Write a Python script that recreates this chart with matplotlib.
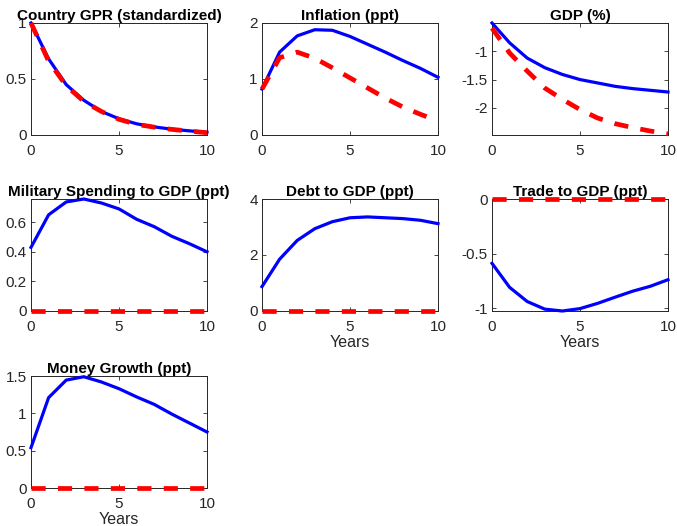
import matplotlib
matplotlib.use("Agg")
import matplotlib.pyplot as plt
import numpy as np

plt.rcParams['font.family'] = ['Liberation Sans', 'DejaVu Sans']

years = list(range(11))

titles = ["Country GPR (standardized)", "Inflation (ppt)", "GDP (%)",
          "Military Spending to GDP (ppt)", "Debt to GDP (ppt)", "Trade to GDP (ppt)",
          "Money Growth (ppt)"]

gpr_blue = [1.0, 0.68, 0.45, 0.31, 0.21, 0.145, 0.10, 0.072, 0.052, 0.037, 0.025]
gpr_red = [1.0, 0.66, 0.44, 0.30, 0.21, 0.14, 0.095, 0.07, 0.05, 0.035, 0.02]
infl_blue = [0.82, 1.48, 1.77, 1.88, 1.87, 1.76, 1.62, 1.48, 1.33, 1.19, 1.03]
infl_red = [0.82, 1.38, 1.48, 1.37, 1.20, 1.02, 0.84, 0.66, 0.50, 0.37, 0.25]
gdp_blue = [-0.50, -0.85, -1.12, -1.29, -1.41, -1.50, -1.56, -1.62, -1.66, -1.69, -1.72]
gdp_red = [-0.59, -1.03, -1.35, -1.65, -1.85, -2.03, -2.18, -2.28, -2.35, -2.41, -2.46]
mil_blue = [0.43, 0.65, 0.737, 0.757, 0.73, 0.69, 0.62, 0.57, 0.505, 0.455, 0.40]
mil_red = [0.0] * 11
debt_blue = [0.87, 1.85, 2.52, 2.94, 3.19, 3.33, 3.36, 3.33, 3.30, 3.24, 3.12]
debt_red = [0.0] * 11
trade_blue = [-0.59, -0.81, -0.94, -1.01, -1.027, -1.005, -0.957, -0.90, -0.845, -0.80, -0.74]
trade_red = [0.0] * 11
money_blue = [0.54, 1.21, 1.445, 1.49, 1.42, 1.33, 1.22, 1.12, 0.99, 0.87, 0.75]
money_red = [0.0] * 11

blue_series = [gpr_blue, infl_blue, gdp_blue, mil_blue, debt_blue, trade_blue, money_blue]
red_series = [gpr_red, infl_red, gdp_red, mil_red, debt_red, trade_red, money_red]

ylims = [(0, 1), (0, 2), (-2.48, -0.5), (0, 0.757), (0, 4), (-1.027, 0), (0, 1.5)]
yticks = [[0, 0.5, 1], [0, 1, 2], [-2, -1.5, -1], [0, 0.2, 0.4, 0.6], [0, 2, 4],
          [-1, -0.5, 0], [0, 0.5, 1, 1.5]]
yticklabels = [["0", "0.5", "1"], ["0", "1", "2"], ["-2", "-1.5", "-1"],
               ["0", "0.2", "0.4", "0.6"], ["0", "2", "4"], ["-1", "-0.5", "0"],
               ["0", "0.5", "1", "1.5"]]
has_xlabel = [False, False, False, False, True, True, True]

W, H = 677, 526
fig = plt.figure(figsize=(W / 100, H / 100), dpi=100)

lefts = [31, 262, 492]
tops = [23, 199, 376]
aw, ah = 176, 112
axcol = (0.15, 0.15, 0.15)

for i in range(7):
    r, c = divmod(i, 3)
    ax = fig.add_axes([lefts[c] / W, 1 - (tops[r] + ah) / H, aw / W, ah / H])
    ax.plot(years, blue_series[i], color='#0000FF', lw=2.3, solid_joinstyle='round',
            zorder=3, clip_on=False)
    ax.plot(years, red_series[i], color='#FF0000', lw=3.4, dashes=(3.0, 2.6),
            zorder=4, clip_on=False)
    ax.set_xlim(0, 10)
    ax.set_ylim(*ylims[i])
    ax.set_xticks([0, 5, 10])
    ax.set_xticklabels(["0", "5", "10"])
    ax.set_yticks(yticks[i])
    ax.set_yticklabels(yticklabels[i])
    ax.tick_params(direction='in', top=True, right=True, length=3, width=0.6,
                   colors=axcol, labelsize=11)
    ax.tick_params(axis='x', pad=6.5)
    ax.tick_params(axis='y', pad=3)
    for s in ax.spines.values():
        s.set_color(axcol)
        s.set_linewidth(0.7)
    ax.set_title(titles[i], fontsize=11, fontweight='bold', pad=2)
    if has_xlabel[i]:
        ax.set_xlabel("Years", fontsize=11.5, color=axcol, labelpad=1)

fig.savefig("out.png", dpi=100)
